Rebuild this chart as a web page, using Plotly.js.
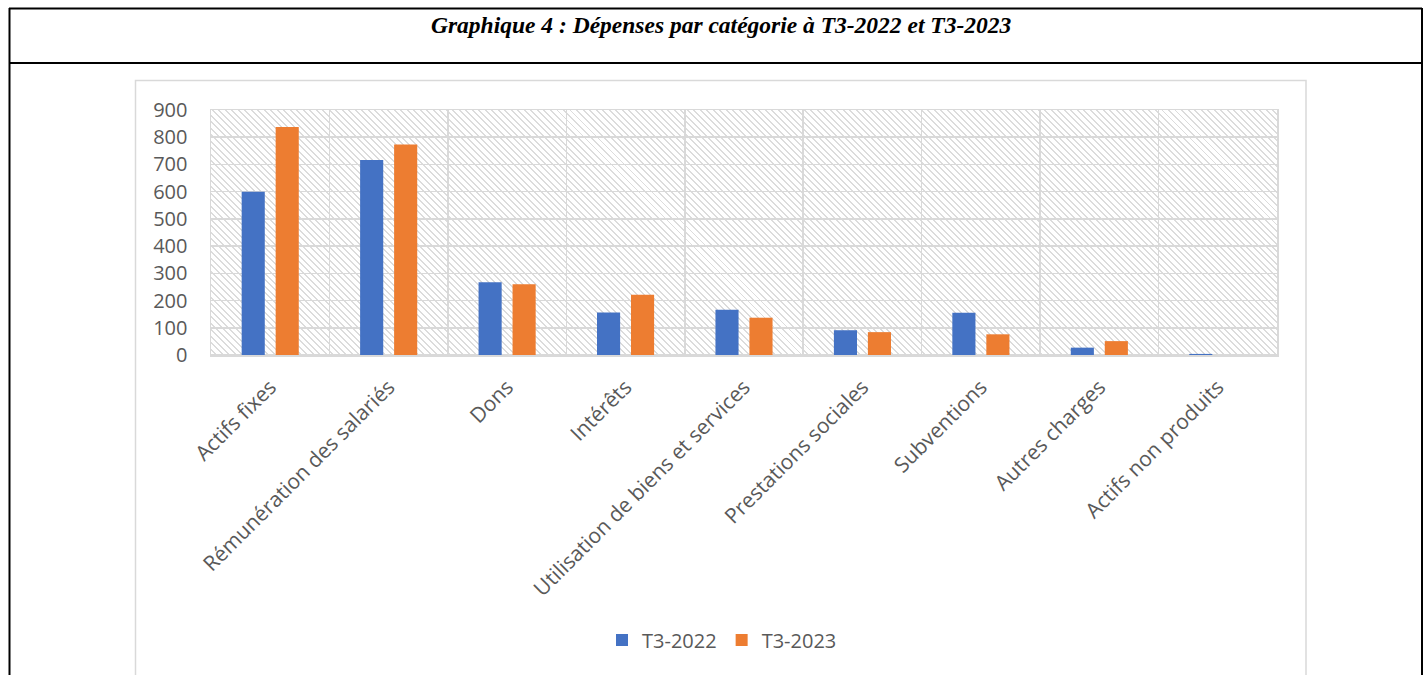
<!DOCTYPE html>
<html>
<head>
<meta charset="utf-8">
<script src="https://cdn.plot.ly/plotly-3.0.1.min.js"></script>
<style>
  html, body { margin: 0; padding: 0; background: #ffffff; }
  #wrap { position: relative; width: 1424px; height: 675px; overflow: hidden; }
  #hatch {
    position: absolute; left: 211px; top: 110px; width: 1066px; height: 245px;
    background: repeating-linear-gradient(45deg, #ffffff 0px, #ffffff 3.2px, #dcdcdc 3.2px, #dcdcdc 4.6px);
  }
  #chart { position: absolute; left: 0; top: 0; width: 1424px; height: 675px; }
</style>
</head>
<body>
<div id="wrap">
  <div id="hatch"></div>
  <div id="chart"></div>
</div>
<script>
const categories = [
  "Actifs fixes",
  "Rémunération des salariés",
  "Dons",
  "Intérêts",
  "Utilisation de biens et services",
  "Prestations sociales",
  "Subventions",
  "Autres charges",
  "Actifs non produits"
];
const seriesNames = ["T3-2022", "T3-2023"];
const valuesT3_2022 = [600, 716, 267, 156, 166, 91, 155, 27, 4];
const valuesT3_2023 = [838, 773, 260, 221, 137, 84, 76, 51, 0];
const chartTitle = "Graphique 4 : Dépenses par catégorie à T3-2022 et T3-2023";

const W = 1424, H = 675;
const L = 211, R = 1277, T = 110, B = 355;
const px = x => (x - L) / (R - L);
const py = y => (B - y) / (B - T);

const grid = "#d9d9d9";
const txt = "#595959";
const font = "'Open Sans', 'DejaVu Sans', sans-serif";

const traces = [
  { type: "bar", name: seriesNames[0], x: categories, y: valuesT3_2022,
    marker: { color: "#4472C4" }, hoverinfo: "x+y" },
  { type: "bar", name: seriesNames[1], x: categories, y: valuesT3_2023,
    marker: { color: "#ED7D31" }, hoverinfo: "x+y" }
];

function line(x0, y0, x1, y1, color, width) {
  return { type: "line", xref: "paper", yref: "paper",
    x0: px(x0), y0: py(y0), x1: px(x1), y1: py(y1),
    line: { color: color, width: width } };
}

const layout = {
  width: W, height: H,
  margin: { l: L, r: W - R, t: T, b: H - B, pad: 0 },
  paper_bgcolor: "rgba(0,0,0,0)",
  plot_bgcolor: "rgba(0,0,0,0)",
  barmode: "group",
  bargap: 0.426,
  bargroupgap: 0.32,
  showlegend: true,
  legend: {
    orientation: "h", x: px(722), xanchor: "center", y: py(640), yanchor: "middle",
    font: { family: font, size: 20, color: txt }, itemwidth: 30, traceorder: "normal"
  },
  font: { family: font, color: txt },
  xaxis: {
    type: "category", tickangle: -45, tickson: "boundaries",
    showgrid: true, gridcolor: grid, gridwidth: 1.5,
    showline: true, linecolor: grid, linewidth: 1.5, mirror: true,
    ticks: "", tickfont: { family: font, size: 21, color: txt },
    ticklabelstandoff: 10, fixedrange: true
  },
  yaxis: {
    range: [0, 900], dtick: 100, tick0: 0,
    showgrid: true, gridcolor: grid, gridwidth: 1.5,
    zeroline: true, zerolinecolor: grid, zerolinewidth: 1.5,
    showline: true, linecolor: grid, linewidth: 1.5, mirror: true,
    ticks: "", tickfont: { family: font, size: 20, color: txt },
    ticklabelstandoff: 18, fixedrange: true
  },
  annotations: [
    { xref: "paper", yref: "paper", x: px(721), y: py(25), xanchor: "center", yanchor: "middle",
      text: chartTitle, showarrow: false,
      font: { family: "'Liberation Serif', 'Times New Roman', serif", size: 23.5, color: "#000000", weight: "bold", style: "italic" } }
  ],
  shapes: [
    line(9, 8.5, 1422, 8.5, "#000000", 2),
    line(9, 63, 1422, 63, "#000000", 2),
    line(9.5, 8, 9.5, 680, "#000000", 2),
    line(1422, 8, 1422, 680, "#000000", 2),
    { type: "rect", xref: "paper", yref: "paper",
      x0: px(135.5), x1: px(1306), y0: py(680), y1: py(80.5),
      line: { color: grid, width: 1.5 }, fillcolor: "rgba(0,0,0,0)", layer: "below" }
  ]
};

Plotly.newPlot("chart", traces, layout, { displayModeBar: false, staticPlot: true });
</script>
</body>
</html>
